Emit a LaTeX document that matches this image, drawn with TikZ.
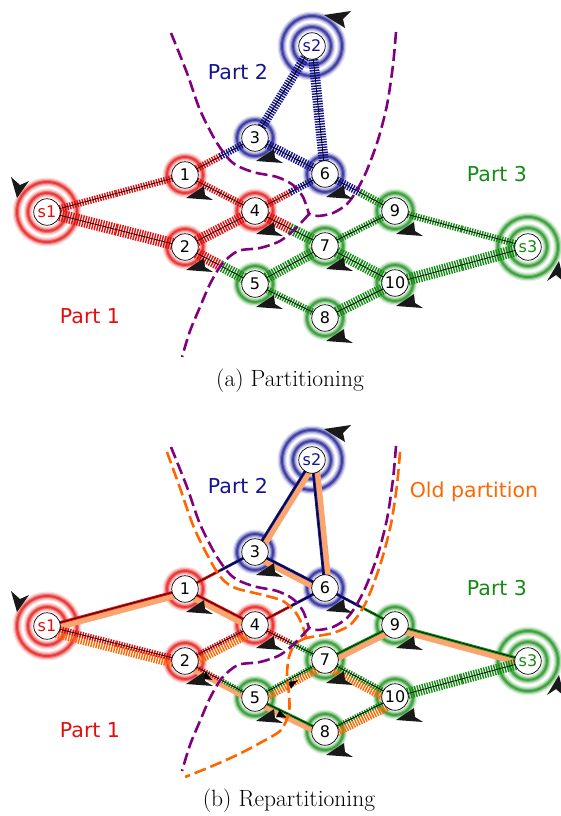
\documentclass[tikz,border=0pt]{standalone}
\usepackage{fontspec}
\newfontfamily\dv{DejaVu Sans}
\usetikzlibrary{calc,arrows.meta}
\pgfdeclarelayer{rings}
\pgfdeclarelayer{edges}
\pgfsetlayers{rings,edges,main}

\definecolor{pone}{RGB}{228,12,12}
\definecolor{ptwo}{RGB}{20,20,145}
\definecolor{pthree}{RGB}{20,140,20}
\definecolor{cutc}{RGB}{128,0,128}
\definecolor{oldcut}{RGB}{255,102,0}
\definecolor{oldflow}{RGB}{250,165,110}

\tikzset{
  vert/.style={circle, draw=black, line width=0.7pt, fill=white, minimum size=26.5pt,
    inner sep=0pt, font=\dv\fontsize{16}{16}\selectfont},
  hatch/.style={dash pattern=on 1.4pt off 1.2pt},
  core/.style={black, line width=0.7pt},
  thinc/.style={line width=2.8pt},
  partlbl/.style={font=\dv\fontsize{20.5}{22}\selectfont},
  cutline/.style={cutc, line width=2.6pt, dash pattern=on 12pt off 5pt},
  oldcutline/.style={oldcut, line width=2.6pt, dash pattern=on 12pt off 5pt},
  flowtip/.style={-{Latex[length=10pt,width=8pt]}, black, line width=0.1pt},
  caplbl/.style={font=\fontsize{23.5}{26}\selectfont},
}

% soft halo ring around a vertex: node, colour, radius
\newcommand\ringat[3]{%
  \begin{pgfonlayer}{rings}
    \draw[#2, line width=9pt, opacity=.12] (#1) circle[radius=#3];
    \draw[#2, line width=6.5pt, opacity=.22] (#1) circle[radius=#3];
    \draw[#2, line width=4pt, opacity=.4] (#1) circle[radius=#3];
    \draw[#2, line width=1.8pt, opacity=.55] (#1) circle[radius=#3];
  \end{pgfonlayer}}

% hatched edge, each half in the colour of its end: a, b, colour a, colour b, width
\newcommand\hedge[5]{%
  \begin{pgfonlayer}{edges}
    \draw[hatch, line width=#5, #3] (#1.center) -- ($(#1)!0.5!(#2)$);
    \draw[hatch, line width=#5, #4] ($(#1)!0.5!(#2)$) -- (#2.center);
    \draw[core] (#1.center) -- (#2.center);
  \end{pgfonlayer}}

% plain edge: a, b, colour a, colour b
\newcommand\tedge[4]{%
  \begin{pgfonlayer}{edges}
    \draw[thinc, #3] (#1.center) -- ($(#1)!0.5!(#2)$);
    \draw[thinc, #4] ($(#1)!0.5!(#2)$) -- (#2.center);
    \draw[black, line width=0.6pt] (#1.center) -- (#2.center);
  \end{pgfonlayer}}

% old flow band beside an edge: a, b, offset, style
\newcommand\oband[4]{%
  \begin{pgfonlayer}{edges}
    \draw[#4] ($(#1)!#3!-90:(#2)$) -- ($(#2)!#3!90:(#1)$);
  \end{pgfonlayer}}

% arrow tip on an old flow band: a, b, offset, position
\newcommand\flowarrow[4]{%
  \path ($(#1)!#3!-90:(#2)$) -- ($(#2)!#3!90:(#1)$)
    coordinate[pos=#4-0.05] (#1#2p) coordinate[pos=#4] (#1#2q);
  \draw[flowtip] (#1#2p) -- (#1#2q);}

% small loop tip below-right of a vertex
\newcommand\looptip[1]{%
  \fill[black!90] ($(#1)+(1,23)$) -- ($(#1)+(19,11)$) -- ($(#1)+(20,20)$)
    -- ($(#1)+(28,25)$) -- cycle;}

\newcommand\graphnodes{%
  \node[vert, text=pone] (s1) at (47,212) {s1};
  \node[vert] (n1) at (185,175) {1};
  \node[vert] (n2) at (185,247) {2};
  \node[vert] (n3) at (255,138) {3};
  \node[vert] (n4) at (255,211) {4};
  \node[vert] (n5) at (255,284) {5};
  \node[vert] (n6) at (325,174) {6};
  \node[vert] (n7) at (325,246) {7};
  \node[vert] (n8) at (325,318) {8};
  \node[vert] (n9) at (395,211) {9};
  \node[vert] (n10) at (395,283) {10};
  \node[vert, text=ptwo] (s2) at (312,46) {s2};
  \node[vert, text=pthree] (s3) at (528,247) {s3};
}

\newcommand\graphrings{%
  \ringat{s1}{pone}{19pt}\ringat{s1}{pone}{30pt}
  \ringat{n1}{pone}{18pt}\ringat{n2}{pone}{18pt}\ringat{n4}{pone}{18pt}
  \ringat{s2}{ptwo}{19pt}\ringat{s2}{ptwo}{30pt}
  \ringat{n3}{ptwo}{18pt}\ringat{n6}{ptwo}{18pt}
  \ringat{s3}{pthree}{19pt}\ringat{s3}{pthree}{30pt}
  \ringat{n5}{pthree}{18pt}\ringat{n7}{pthree}{18pt}\ringat{n8}{pthree}{18pt}
  \ringat{n9}{pthree}{18pt}\ringat{n10}{pthree}{18pt}
}

\newcommand\looptips{%
  \foreach \v in {n1,n2,n3,n4,n5,n6,n7,n8,n9,n10} {\looptip{\v}}
  \fill[black!90] ($(s1)+(-30,-14)$) -- ($(s1)+(-36,-35)$) -- ($(s1)+(-27,-27)$)
    -- ($(s1)+(-18,-31)$) -- cycle;
  \fill[black!90] ($(s2)+(12,-31)$) -- ($(s2)+(39,-35)$) -- ($(s2)+(31,-27)$)
    -- ($(s2)+(33,-18)$) -- cycle;
  \fill[black!90] ($(s3)+(31,14)$) -- ($(s3)+(19,34)$) -- ($(s3)+(28,28)$)
    -- ($(s3)+(36,35)$) -- cycle;
}

% the three arms of the new cut
\newcommand\cutlines{%
  \draw[cutline] plot[smooth] coordinates {(171,33) (187,73) (200,110) (217,143)
    (233,163) (253,172) (277,177) (293,185) (303,197) (309,214)};
  \draw[cutline] plot[smooth] coordinates {(396,32) (393,65) (387,105) (378,140)
    (367,170) (357,190) (347,204) (333,213) (318,216) (309,214)};
  \draw[cutline] plot[smooth] coordinates {(309,214) (296,228) (280,241) (260,248)
    (238,251) (222,264) (210,284) (200,307) (190,331) (182,357)};
}

\begin{document}
\begin{tikzpicture}[x=1pt, y=-1pt]
\useasboundingbox (0,0) rectangle (560,816);

% ---------------- partitioning ----------------
\begin{scope}[name prefix=a-]
  \graphnodes
  \graphrings
  \hedge{s1}{n1}{pone}{pone}{7pt}
  \hedge{s1}{n2}{pone}{pone}{12pt}
  \hedge{n1}{n3}{pone}{ptwo}{7pt}
  \hedge{n1}{n4}{pone}{pone}{7pt}
  \hedge{n2}{n4}{pone}{pone}{11pt}
  \hedge{n2}{n5}{pone}{pthree}{11pt}
  \hedge{n3}{s2}{ptwo}{ptwo}{9pt}
  \hedge{n3}{n6}{ptwo}{ptwo}{9pt}
  \hedge{n6}{s2}{ptwo}{ptwo}{10pt}
  \hedge{n4}{n6}{pone}{ptwo}{7pt}
  \hedge{n4}{n7}{pone}{pthree}{11pt}
  \hedge{n5}{n7}{pthree}{pthree}{11pt}
  \hedge{n5}{n8}{pthree}{pthree}{7pt}
  \hedge{n6}{n9}{ptwo}{pthree}{8pt}
  \hedge{n7}{n9}{pthree}{pthree}{7pt}
  \hedge{n7}{n10}{pthree}{pthree}{11pt}
  \hedge{n8}{n10}{pthree}{pthree}{11pt}
  \hedge{n9}{s3}{pthree}{pthree}{7pt}
  \hedge{n10}{s3}{pthree}{pthree}{12pt}
  \cutlines
  \looptips
  \node[partlbl, text=pone] (lbl1) at (90,316) {Part 1};
  \node[partlbl, text=ptwo] (lbl2) at (238,72) {Part 2};
  \node[partlbl, text=pthree] (lbl3) at (497,174) {Part 3};
\end{scope}
\node[caplbl] (capa) at (290,381) {(a) Partitioning};

% ---------------- repartitioning ----------------
\begin{scope}[yshift=-414pt, name prefix=b-]
  \graphnodes
  \graphrings
  % flows of the old partition
  \oband{s1}{n1}{4pt}{oldflow, line width=6pt}
  \oband{s1}{n2}{5.5pt}{oldcut, hatch, line width=8pt}
  \oband{n1}{n4}{4pt}{oldflow, line width=6pt}
  \oband{n2}{n4}{5.5pt}{oldcut, hatch, line width=8pt}
  \oband{n2}{n5}{4pt}{oldflow, line width=5pt}
  \oband{n3}{s2}{4pt}{oldflow, line width=6pt}
  \oband{n3}{n6}{4pt}{oldflow, line width=6pt}
  \oband{n6}{s2}{4pt}{oldflow, line width=6pt}
  \oband{n5}{n7}{5pt}{oldcut, hatch, line width=7pt}
  \oband{n5}{n8}{4pt}{oldflow, line width=5pt}
  \oband{n7}{n9}{4pt}{oldflow, line width=6pt}
  \oband{n7}{n10}{5.5pt}{oldcut, hatch, line width=8pt}
  \oband{n8}{n10}{5.5pt}{oldcut, hatch, line width=8pt}
  \oband{n9}{s3}{4pt}{oldflow, line width=6pt}
  % edges of the new partition
  \tedge{s1}{n1}{pone}{pone}
  \hedge{s1}{n2}{pone}{pone}{6pt}
  \tedge{n1}{n3}{pone}{ptwo}
  \tedge{n1}{n4}{pone}{pone}
  \hedge{n2}{n4}{pone}{pone}{5pt}
  \hedge{n2}{n5}{pone}{pthree}{4.5pt}
  \tedge{n3}{s2}{ptwo}{ptwo}
  \tedge{n3}{n6}{ptwo}{ptwo}
  \tedge{n6}{s2}{ptwo}{ptwo}
  \tedge{n4}{n6}{pone}{ptwo}
  \hedge{n4}{n7}{pone}{pthree}{5.5pt}
  \hedge{n5}{n7}{pthree}{pthree}{4.5pt}
  \tedge{n5}{n8}{pthree}{pthree}
  \tedge{n6}{n9}{ptwo}{pthree}
  \tedge{n7}{n9}{pthree}{pthree}
  \hedge{n7}{n10}{pthree}{pthree}{5.5pt}
  \hedge{n8}{n10}{pthree}{pthree}{4.5pt}
  \tedge{n9}{s3}{pthree}{pthree}
  \hedge{n10}{s3}{pthree}{pthree}{11pt}
  \flowarrow{n2}{n5}{4pt}{0.42}
  \flowarrow{n5}{n7}{5pt}{0.58}
  \flowarrow{n5}{n8}{4pt}{0.48}
  % old cut
  \draw[oldcutline] plot[smooth] coordinates {(167,38) (180,74) (195,116) (217,158)
    (233,173) (263,181) (283,187) (296,199) (303,213) (306,224)};
  \draw[oldcutline] plot[smooth] coordinates {(400,38) (397,71) (391,110) (382,145)
    (372,174) (363,194) (350,211) (333,219) (317,222) (306,224)};
  \draw[oldcutline] plot[smooth] coordinates {(306,224) (295,230) (289,243) (287,261)
    (289,281) (289,298) (281,316) (260,329) (237,341) (210,353) (185,363)};
  \cutlines
  \looptips
  \node[partlbl, text=pone] (lbl1) at (90,316) {Part 1};
  \node[partlbl, text=ptwo] (lbl2) at (238,72) {Part 2};
  \node[partlbl, text=pthree] (lbl3) at (497,174) {Part 3};
  \node[partlbl, text=oldcut] (lblold) at (474,78) {Old partition};
\end{scope}
\node[caplbl] (capb) at (289,801) {(b) Repartitioning};
\end{tikzpicture}
\end{document}
